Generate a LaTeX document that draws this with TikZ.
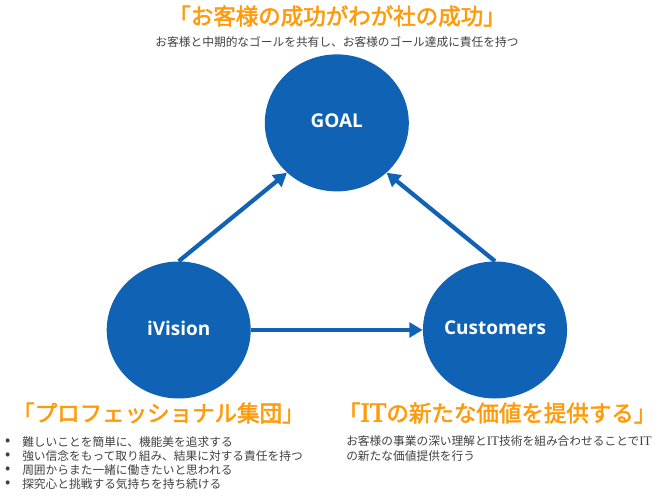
\documentclass[tikz,border=0pt]{standalone}
\usepackage{fontspec}
\setmainfont{Noto Sans CJK JP}
\newfontfamily\headfont[FakeBold=2.2]{Noto Sans CJK JP}
\newfontfamily\latinfont[Scale=1.12]{Liberation Serif}
\newfontfamily\headlatinfont[FakeBold=2.2,Scale=1.22]{Liberation Serif}
\newfontfamily\labelfont{Open Sans}
\usetikzlibrary{arrows.meta,shapes.geometric}
\definecolor{circleblue}{HTML}{0F62B4}
\definecolor{headorange}{HTML}{FF9A0A}
\definecolor{bodygray}{HTML}{404040}

\begin{document}
\begin{tikzpicture}
		\tikzstyle {circlenode} = [ellipse, fill=circleblue, text=white, minimum width=3.6cm, minimum height=3.425cm, inner sep=0pt, text depth=2.8pt, font=\labelfont\bfseries\fontsize{13.5}{15}\selectfont]
		\tikzstyle {vector} = [line width=3pt, draw=circleblue, -{Triangle[length=9.5pt,width=10.5pt]}]
		\tikzstyle {heading} = [text=headorange, inner sep=0pt, font=\headfont\fontsize{16}{18}\selectfont]
		\tikzstyle {body} = [text=bodygray, inner sep=0pt, anchor=west, font=\fontsize{8.33}{10}\selectfont]

		\useasboundingbox (0,0) rectangle (16.75,12.5);

		\node[circlenode] (goal) at (8.42, 9.4275) {GOAL};
		\node[circlenode] (ivision) at (4.4675, 4.25) {iVision};
		\node[circlenode] (customers) at (12.375, 4.25) {Customers};

		\draw[vector] (ivision.90) -- (goal.225);
		\draw[vector] (customers.90) -- (goal.-45);
		\draw[vector] (ivision.east) -- (customers.west);

		\node[heading] (goalhead) at (8.425, 12.1) {「お客様の成功がわが社の成功」};
		\node[body, anchor=center] (goaltext) at (8.425, 11.45) {お客様と中期的なゴールを共有し、お客様のゴール達成に責任を持つ};

		\node[heading] (ivisionhead) at (3.96, 2.175) {「プロフェッショナル集団」};
		\foreach \i/\y/\t in {1/1.45/難しいことを簡単に、機能美を追求する,
				2/1.1/強い信念をもって取り組み、結果に対する責任を持つ,
				3/0.75/周囲からまた一緒に働きたいと思われる,
				4/0.4/探究心と挑戦する気持ちを持ち続ける} {
			\node[body, font=\fontsize{11}{12}\selectfont] (dot\i) at (0.12, \y) {•};
			\node[body] (item\i) at (0.55, \y) {\t};
		}

		\node[heading] (customershead) at (12.43, 2.175) {「{\headlatinfont IT}の新たな価値を提供する」};
		\node[body] (customerstext1) at (8.65, 1.475) {お客様の事業の深い理解と{\latinfont IT}技術を組み合わせることで{\latinfont IT}};
		\node[body] (customerstext2) at (8.65, 1.1) {の新たな価値提供を行う};
	\end{tikzpicture}
\end{document}
